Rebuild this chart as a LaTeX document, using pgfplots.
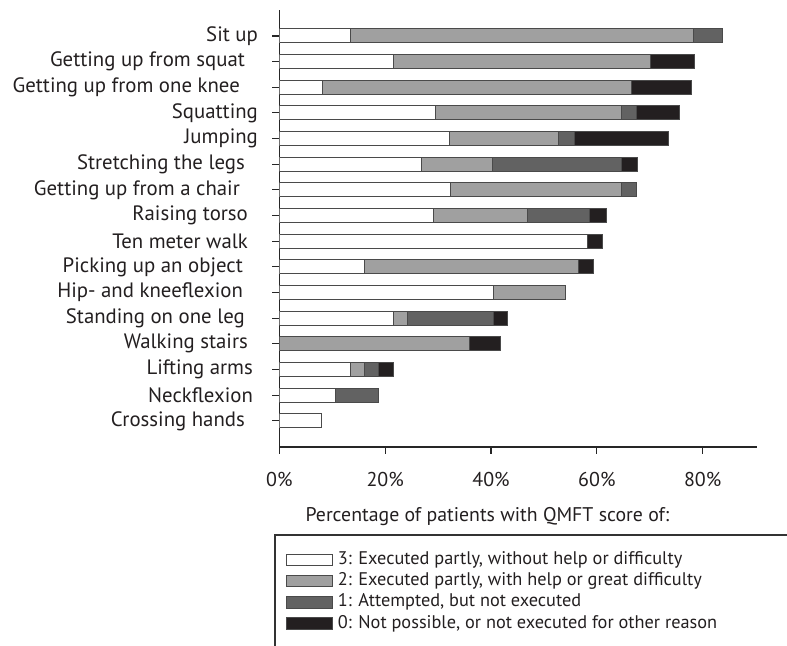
\documentclass[border=0pt]{standalone}
\usepackage{fontspec}
\setmainfont{PT Sans}
\usepackage{pgfplots}
\pgfplotsset{compat=1.18}
\usepackage{pgfplotstable}
\definecolor{txt}{HTML}{231F20}
\definecolor{gA}{HTML}{A0A0A0}
\definecolor{gB}{HTML}{626262}
\definecolor{gC}{HTML}{231F20}
\definecolor{edge}{HTML}{4A4A4A}

\pgfplotstableread{
y  s3    s2    s1    s0
15 13.4  64.9  5.5   0
14 21.5  48.7  0     8.2
13 8.2   58.3  0     11.4
12 29.6  35.1  2.7   8.3
11 32.1  20.6  3.1   17.7
10 26.8  13.5  24.4  2.9
9  32.3  32.4  2.8   0
8  29.2  17.6  11.9  3.1
7  58.2  0     0     2.9
6  16.1  40.5  0     2.8
5  40.4  13.6  0     0
4  21.5  2.7   16.2  2.8
3  0     35.9  0     5.8
2  13.4  2.7   2.7   2.8
1  10.6  0     8.2   0
0  8.0   0     0     0
}\data

\begin{document}
\begin{tikzpicture}
\useasboundingbox (0,0) rectangle (393.5pt,323pt);
\begin{axis}[
  at={(139.65pt,99.5pt)}, anchor=south west,
  scale only axis, width=238.7pt, height=218.5pt,
  xbar stacked, bar width=7pt,
  xmin=0, xmax=90.2, ymin=-1.02, ymax=16.01,
  axis x line*=bottom, axis y line*=left,
  axis line style={black!85, line width=0.7pt},
  tick align=outside, major tick length=3.5pt,
  tick style={black!85, line width=0.6pt},
  xtick={0,20,40,60,80}, xticklabels={0\%,20\%,40\%,60\%,80\%},
  ytick={0,...,15},
  yticklabels={Crossing hands\hspace*{6.5pt}, Neckflexion\hspace*{2.5pt}, Lifting arms\hspace*{2.5pt}, Walking stairs\hspace*{5pt}, Standing on one leg\hspace*{6.5pt}, Hip- and kneeflexion\hspace*{7.5pt}, Picking up an object\hspace*{7.5pt}, Ten meter walk\hspace*{5pt}, Raising torso\hspace*{5pt}, Getting up from a chair\hspace*{9pt}, Stretching the legs\hspace*{6.5pt}, Jumping, Squatting, Getting up from one knee\hspace*{9pt}, Getting up from squat\hspace*{6.5pt}, Sit up},
  /pgf/number format/assume math mode=true,
  yticklabel style={font=\fontsize{10.4}{12}\selectfont, text=txt, anchor=east, inner sep=0pt, xshift=-7pt},
  xticklabel style={font=\fontsize{10}{12}\selectfont, text=txt, yshift=-5.5pt},
  xlabel={Percentage of patients with QMFT score of:},
  xlabel style={font=\fontsize{9.9}{12}\selectfont, text=txt, at={(axis description cs:0.436,0)}, anchor=center, yshift=-35pt},
  every axis plot/.append style={draw=edge, line width=0.5pt},
  legend image code/.code={\draw[#1] (0pt,-2.9pt) rectangle (23pt,2.9pt);},
  legend style={at={(axis description cs:0,0)}, anchor=north west, xshift=3.2pt, yshift=-52pt,
    draw=none, fill=none, inner sep=0pt, row sep=2.15pt,
    font=\fontsize{9.15}{11}\selectfont, text=txt,
    nodes={text height=6.5pt, text depth=2pt, inner sep=0pt},
    /tikz/every odd column/.append style={column sep=2.4pt}},
  legend cell align=left,
]
\addplot[fill=white] table[x=s3,y=y]{\data};
\addlegendentry{3: Executed partly, without help or difficulty}
\addplot[fill=gA] table[x=s2,y=y]{\data};
\addlegendentry{2: Executed partly, with help or great difficulty}
\addplot[fill=gB] table[x=s1,y=y]{\data};
\addlegendentry{1: Attempted, but not executed}
\addplot[fill=gC] table[x=s0,y=y]{\data};
\addlegendentry{0: Not possible, or not executed for other reason}
\end{axis}
\draw[black!80, line width=0.6pt] (400pt,55.5pt) -- (137.5pt,55.5pt) -- (137.5pt,-5pt);
\end{tikzpicture}
\end{document}
